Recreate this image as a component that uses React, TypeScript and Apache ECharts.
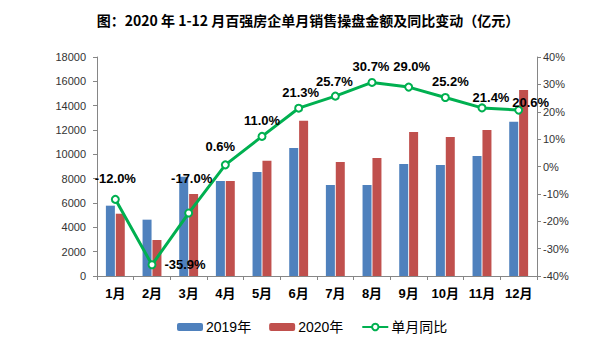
import React, { useEffect, useRef } from "react";
import * as echarts from "echarts";

const categories = ["1月", "2月", "3月", "4月", "5月", "6月", "7月", "8月", "9月", "10月", "11月", "12月"];
const sales2019 = [5780, 4630, 8160, 7800, 8550, 10520, 7480, 7480, 9200, 9120, 9860, 12680];
const sales2020 = [5120, 2960, 6740, 7800, 9480, 12770, 9370, 9700, 11830, 11420, 12000, 15280];
const yoy = [-12.0, -35.9, -17.0, 0.6, 11.0, 21.3, 25.7, 30.7, 29.0, 25.2, 21.4, 20.6];
const leftTicks = { min: 0, max: 18000, interval: 2000 };
const rightTicks = { min: -40, max: 40, interval: 10 };

// label placement (layout only)
const labelOffsets: [number, number][] = [
  [0, -21], [33, 0], [3, -35], [-5, -18], [0, -16], [2, -16],
  [-1, -15], [-1, -16], [3, -21], [5, -16], [9, -10], [12, -8],
];

const FONT = '"Liberation Sans", Arial, "Noto Sans CJK SC", sans-serif';

export default function App() {
  const ref = useRef<HTMLDivElement>(null);
  useEffect(() => {
    if (!ref.current) return;
    const chart = echarts.init(ref.current, undefined, { renderer: "svg" });
    const axisLine = { show: true, lineStyle: { color: "#868686", width: 1 } };
    chart.setOption({
      animation: false,
      backgroundColor: "#fff",
      textStyle: { fontFamily: FONT },
      title: {
        text: "图：2020 年 1-12 月百强房企单月销售操盘金额及同比变动（亿元）",
        left: "center",
        top: 8,
        textStyle: {
          fontFamily: '"Noto Sans CJK SC", sans-serif',
          fontWeight: "bold",
          fontSize: 14,
          color: "#000",
        },
      },
      legend: {
        left: 177,
        top: 320,
        padding: 0,
        itemWidth: 26,
        itemHeight: 8,
        itemGap: 18,
        textStyle: { fontSize: 14, color: "#000", fontFamily: FONT, padding: [0, 0, 0, -2] },
        data: ["2019年", "2020年", "单月同比"],
      },
      grid: { left: 97, right: 79, top: 57, bottom: 83 },
      xAxis: {
        type: "category",
        data: categories,
        axisLine,
        axisTick: { show: true, alignWithLabel: false, length: 4, lineStyle: { color: "#868686" } },
        axisLabel: { fontSize: 13, fontWeight: "bold", color: "#000", margin: 11, interval: 0 },
      },
      yAxis: [
        {
          type: "value",
          min: leftTicks.min,
          max: leftTicks.max,
          interval: leftTicks.interval,
          axisLine,
          axisTick: { show: true, length: 4, lineStyle: { color: "#868686" } },
          splitLine: { show: false },
          axisLabel: { fontSize: 11, color: "#333", margin: 11, formatter: (v: number) => String(v) },
        },
        {
          type: "value",
          min: rightTicks.min,
          max: rightTicks.max,
          interval: rightTicks.interval,
          position: "right",
          axisLine,
          axisTick: { show: true, length: 4, lineStyle: { color: "#868686" } },
          splitLine: { show: false },
          axisLabel: { fontSize: 11, color: "#333", margin: 6, formatter: (v: number) => `${v}%` },
        },
      ],
      series: [
        {
          name: "2019年",
          type: "bar",
          data: sales2019,
          barWidth: 9,
          barGap: "10%",
          itemStyle: { color: "#4F81BD" },
        },
        {
          name: "2020年",
          type: "bar",
          data: sales2020,
          barWidth: 9,
          barGap: "10%",
          itemStyle: { color: "#C0504D" },
        },
        {
          name: "单月同比",
          type: "line",
          yAxisIndex: 1,
          z: 5,
          symbol: "emptyCircle",
          symbolSize: 7,
          itemStyle: { color: "#00B050", borderWidth: 2 },
          lineStyle: { color: "#00B050", width: 3 },
          data: yoy.map((v, i) => ({
            value: v,
            label: { offset: labelOffsets[i] },
          })),
          label: {
            show: true,
            position: "inside",
            fontSize: 13,
            fontWeight: "bold",
            color: "#000",
            formatter: (p: any) => `${Number(p.value).toFixed(1)}%`,
          },
        },
      ],
    });
    return () => chart.dispose();
  }, []);
  return <div ref={ref} style={{ position: "absolute", left: 0, top: 0, width: 616, height: 359 }} />;
}
